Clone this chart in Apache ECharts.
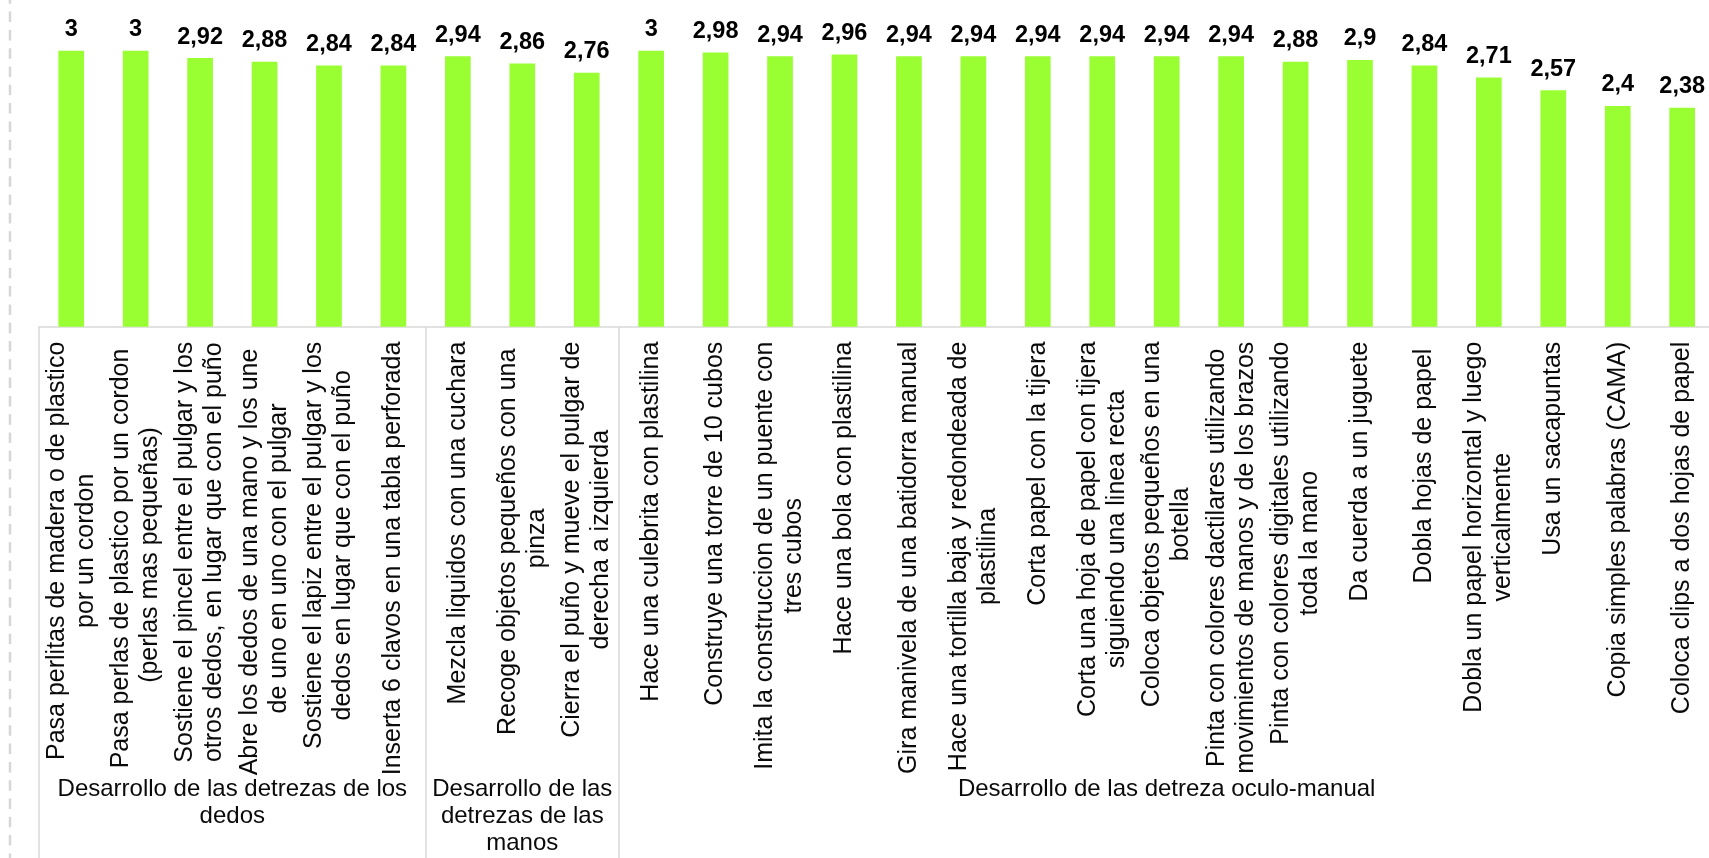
<!DOCTYPE html>
<html>
<head>
<meta charset="utf-8">
<script src="https://cdn.jsdelivr.net/npm/echarts@6/dist/echarts.min.js"></script>
<style>
  html, body { margin: 0; padding: 0; background: #fff; }
  #chart { width: 1709px; height: 858px; }
</style>
</head>
<body>
<div id="chart"></div>
<script>
// Activities (level 1 labels); explicit line breaks follow the wrapped layout
const categories = [
  'Pasa perlitas de madera o de plastico\npor un cordon',
  'Pasa perlas de plastico por un cordon \n(perlas mas pequeñas)',
  'Sostiene el pincel entre el pulgar y los\notros dedos, en lugar que con el puño',
  'Abre los dedos de una mano y los une \nde uno en uno con el pulgar',
  'Sostiene el lapiz entre el pulgar y los\ndedos en lugar que con el puño',
  'Inserta 6 clavos en una tabla perforada',
  'Mezcla liquidos con una cuchara',
  'Recoge objetos pequeños con una \npinza',
  'Cierra el puño y mueve el pulgar de\nderecha a izquierda',
  'Hace una culebrita con plastilina',
  'Construye una torre de 10 cubos',
  'Imita la construccion de un puente con\ntres cubos',
  'Hace una bola con plastilina',
  'Gira manivela de una batidorra manual',
  'Hace una tortilla baja y redondeada de\nplastilina',
  'Corta papel con la tijera',
  'Corta una hoja de papel con tijera\nsiguiendo una linea recta',
  'Coloca objetos pequeños en una\nbotella',
  'Pinta con colores dactilares utilizando\nmovimientos de manos y de los brazos',
  'Pinta con colores digitales utilizando\ntoda la mano',
  'Da cuerda a un juguete',
  'Dobla hojas de papel ',
  'Dobla un papel horizontal y luego\nverticalmente',
  'Usa un sacapuntas',
  'Copia simples palabras (CAMA)',
  'Coloca clips a dos hojas de papel'
];

// Mean score per activity
const values = [
  3, 3, 2.92, 2.88, 2.84, 2.84,
  2.94, 2.86, 2.76,
  3, 2.98, 2.94, 2.96, 2.94, 2.94, 2.94, 2.94, 2.94, 2.94, 2.88, 2.9, 2.84, 2.71, 2.57, 2.4, 2.38
];

// Level 2 groups and how many activities each one spans
const groupNames = [
  'Desarrollo de las detrezas de los\ndedos',
  'Desarrollo de las\ndetrezas de las\nmanos',
  'Desarrollo de las detreza oculo-manual'
];
const groupSizes = [6, 3, 17];

// Group boundaries (in category units) and group centres
const boundaries = [0];
groupSizes.forEach(n => boundaries.push(boundaries[boundaries.length - 1] + n));
const centers = groupSizes.map((n, i) => boundaries[i] + n / 2);

const FONT = "'Liberation Sans', Arial, sans-serif";
const GRID_LINE = '#d9d9d9';

const chart = echarts.init(document.getElementById('chart'), null, { renderer: 'canvas' });

chart.setOption({
  animation: false,
  backgroundColor: '#ffffff',
  grid: {
    left: 39,
    top: 50.7,
    width: 1675.4,
    height: 276,
    containLabel: false,
    outerBoundsMode: 'none'
  },
  xAxis: [
    {
      type: 'category',
      data: categories,
      boundaryGap: true,
      axisLine: { show: true, lineStyle: { color: GRID_LINE, width: 1.5 } },
      axisTick: { show: false },
      axisLabel: {
        interval: 0,
        rotate: 90,
        margin: 15,
        formatter: v => v.split('\n').map(s => '{c|' + s + '}').join('\n'),
        rich: {
          c: {
            align: 'center',
            fontFamily: FONT,
            fontSize: 25,
            lineHeight: 29,
            color: '#0a0a0a'
          }
        }
      }
    },
    {
      type: 'value',
      position: 'bottom',
      min: boundaries[0],
      max: boundaries[boundaries.length - 1],
      axisLine: { show: false },
      splitLine: { show: false },
      axisTick: {
        show: true,
        customValues: boundaries,
        length: 540,
        lineStyle: { color: GRID_LINE, width: 1.5 }
      },
      axisLabel: {
        show: true,
        customValues: centers,
        margin: 449,
        formatter: v => {
          const i = centers.indexOf(v);
          return i >= 0 ? groupNames[i] : '';
        },
        fontFamily: FONT,
        fontSize: 24,
        lineHeight: 27,
        color: '#0a0a0a',
        align: 'center'
      }
    }
  ],
  yAxis: {
    type: 'value',
    min: 0,
    max: 3,
    show: false
  },
  series: [
    {
      type: 'bar',
      xAxisIndex: 0,
      data: values,
      barWidth: 25.7,
      itemStyle: { color: '#99FF33' },
      label: {
        show: true,
        position: 'top',
        distance: 9,
        formatter: p => String(p.value).replace('.', ','),
        fontFamily: FONT,
        fontSize: 23.5,
        fontWeight: 'bold',
        color: '#000000'
      }
    }
  ],
  graphic: [
    {
      type: 'line',
      silent: true,
      shape: { x1: 10, y1: -6.7, x2: 10, y2: 858 },
      style: { stroke: '#d6d6d6', lineWidth: 2.5, lineDash: [10.5, 7.8] }
    }
  ]
});
</script>
</body>
</html>
